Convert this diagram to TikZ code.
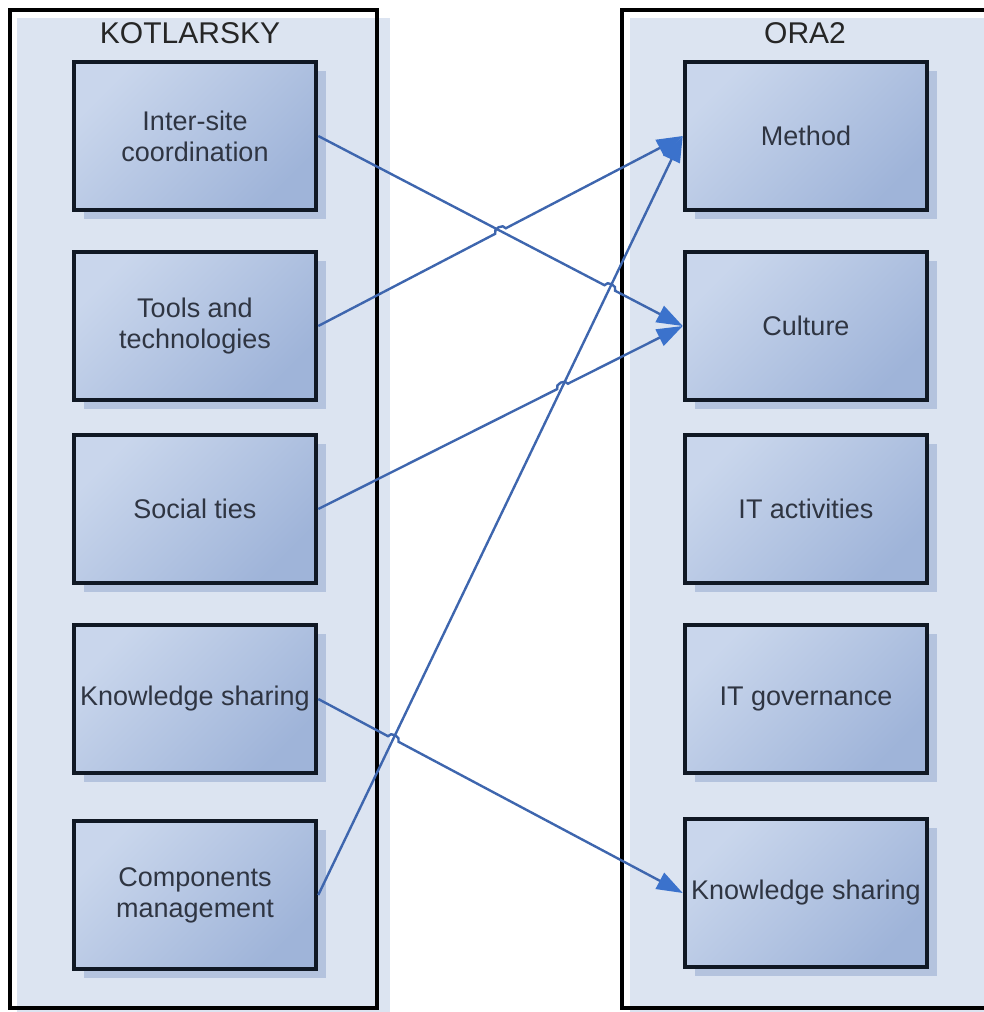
\documentclass[tikz,border=0pt]{standalone}
\usepackage{fontspec}
\setmainfont{Liberation Sans}
\usetikzlibrary{arrows.meta,calc,shadows}

\definecolor{panelfill}{HTML}{DCE4F1}
\definecolor{boxlight}{HTML}{C9D6EC}
\definecolor{boxdark}{HTML}{9FB4D9}
\definecolor{boxshadow}{HTML}{B4C3DE}
\definecolor{boxedge}{HTML}{101824}
\definecolor{labelink}{HTML}{2F3542}
\definecolor{linkblue}{HTML}{3E66AE}
\definecolor{tipblue}{HTML}{3B72CC}

\tikzset{
  panelframe/.style={draw=black, line width=3.5pt},
  panelback/.style={fill=panelfill, draw=none},
  paneltitle/.style={font=\fontsize{30}{34}\selectfont, text=black!85},
  catbox/.style={
    draw=boxedge, line width=4.5pt,
    top color=boxlight, bottom color=boxdark, shading angle=45,
    minimum width=242pt, minimum height=148pt,
    align=center, inner sep=2pt,
    font=\fontsize{27}{31}\selectfont, text=labelink,
    drop shadow={shadow xshift=10pt, shadow yshift=-9pt, fill=boxshadow, opacity=1}
  },
  link/.style={draw=linkblue, line width=2.4pt,
    -{Triangle[length=26pt,width=18pt,fill=tipblue,color=tipblue]}},
  hop/.style={bend left=90, looseness=1.2}
}

\begin{document}
\begin{tikzpicture}[x=1pt,y=-1pt]
  \useasboundingbox (0,0) rectangle (984,1012);
  \clip (0,0) rectangle (984,1012);

  % panel backgrounds and frames
  \path[panelback] (17,18) rectangle (390,1014);
  \path[panelback] (630,18) rectangle (990,1014);
  \draw[panelframe] (10,10) rectangle (377,1008);
  \draw[panelframe] (622,10) rectangle (1010,1008);

  \node[paneltitle] (ktitle) at (190,33) {KOTLARSKY};
  \node[paneltitle] (otitle) at (805,33) {ORA2};

  % left column
  \node[catbox] (inter)  at (195,136) {Inter-site\\coordination};
  \node[catbox] (tools)  at (195,326) {Tools and\\technologies};
  \node[catbox] (social) at (195,509) {Social ties};
  \node[catbox] (kshare) at (195,699) {Knowledge sharing};
  \node[catbox] (comp)   at (195,895) {Components\\management};

  % right column
  \node[catbox] (method)  at (806,136) {Method};
  \node[catbox] (culture) at (806,326) {Culture};
  \node[catbox] (itact)   at (806,509) {IT activities};
  \node[catbox] (itgov)   at (806,699) {IT governance};
  \node[catbox] (oshare)  at (806,893) {Knowledge sharing};

  % crossing points where a connector jumps over another
  \coordinate (x1) at (intersection of tools.east--method.west and inter.east--culture.west);
  \coordinate (x2) at (intersection of inter.east--culture.west and comp.east--method.west);
  \coordinate (x3) at (intersection of social.east--culture.west and comp.east--method.west);
  \coordinate (x4) at (intersection of kshare.east--oshare.west and comp.east--method.west);

  % connectors
  \draw[link] (comp.east) -- (method.west);
  \draw[link] (inter.east) -- ($(x2)!6pt!(inter.east)$)
    to[hop] ($(x2)!6pt!(culture.west)$) -- (culture.west);
  \draw[link] (tools.east) -- ($(x1)!6pt!(tools.east)$)
    to[hop] ($(x1)!6pt!(method.west)$) -- (method.west);
  \draw[link] (social.east) -- ($(x3)!6pt!(social.east)$)
    to[hop] ($(x3)!6pt!(culture.west)$) -- (culture.west);
  \draw[link] (kshare.east) -- ($(x4)!6pt!(kshare.east)$)
    to[hop] ($(x4)!6pt!(oshare.west)$) -- (oshare.west);
\end{tikzpicture}
\end{document}
